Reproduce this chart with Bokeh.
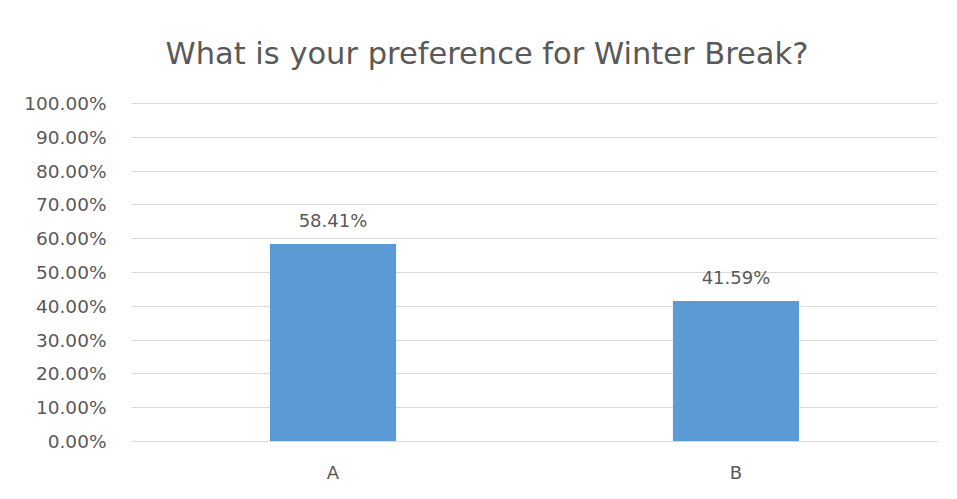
from bokeh.plotting import figure
from bokeh.models import ColumnDataSource, NumeralTickFormatter, FixedTicker, Range1d, Title, LabelSet
from bokeh.core.properties import value
from bokeh.embed import file_html
from bokeh.resources import INLINE

categories = ["A", "B"]
shares = [0.5841, 0.4159]
share_labels = ["58.41%", "41.59%"]
y_ticks = [0.0, 0.1, 0.2, 0.3, 0.4, 0.5, 0.6, 0.7, 0.8, 0.9, 1.0]
title_text = "What is your preference for Winter Break?"

TEXT = "#595959"
GRID = "#d9d9d9"
FONT = "DejaVu Sans"

source = ColumnDataSource(data=dict(cat=categories, val=shares, lab=share_labels))

p = figure(
    x_range=categories,
    y_range=Range1d(0, 1.003),
    width=957, height=499,
    frame_width=806, frame_height=339,
    min_border_left=131, min_border_right=20,
    min_border_top=102, min_border_bottom=58,
    output_backend="svg", toolbar_location=None,
)
p.outline_line_color = None
p.background_fill_color = "white"
p.border_fill_color = "white"

p.vbar(x="cat", top="val", width=0.313, source=source, fill_color="#5B9BD5", line_color=None)

labels = LabelSet(x="cat", y="val", text="lab", source=source, text_align="center",
                  text_baseline="alphabetic", y_offset=17, text_color=TEXT,
                  text_font=value(FONT), text_font_size="18px")
p.add_layout(labels)

p.yaxis.ticker = FixedTicker(ticks=y_ticks)
p.yaxis.formatter = NumeralTickFormatter(format="0.00%")
p.yaxis.axis_line_color = None
p.yaxis.major_tick_line_color = None
p.yaxis.minor_tick_line_color = None
p.yaxis.major_label_standoff = 19
p.yaxis.major_label_text_color = TEXT
p.yaxis.major_label_text_font = FONT
p.yaxis.major_label_text_font_size = "18.5px"

p.xaxis.axis_line_color = GRID
p.xaxis.major_tick_line_color = None
p.xaxis.minor_tick_line_color = None
p.xaxis.major_label_standoff = 14
p.xaxis.major_label_text_color = TEXT
p.xaxis.major_label_text_font = FONT
p.xaxis.major_label_text_font_size = "18px"

p.xgrid.grid_line_color = None
p.ygrid.grid_line_color = GRID
p.ygrid.grid_line_width = 1
p.ygrid.ticker = FixedTicker(ticks=y_ticks)

t = Title(text=title_text, align="left", offset=34, text_font=FONT,
          text_font_size="30.5px", text_font_style="normal", text_color=TEXT,
          standoff=64)
p.add_layout(t, "above")

open("out.html", "w").write(file_html(p, INLINE))
